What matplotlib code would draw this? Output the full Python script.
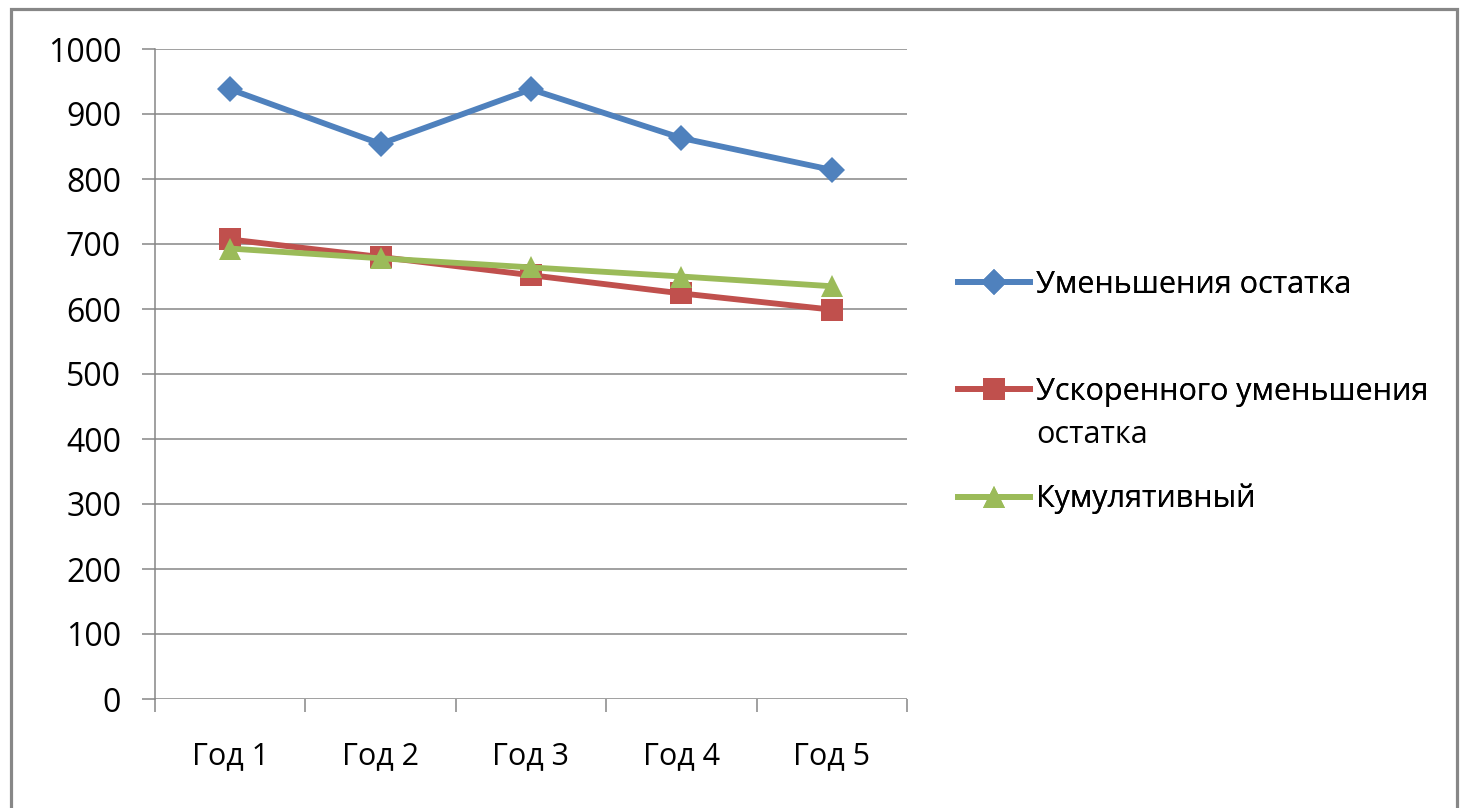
import matplotlib
matplotlib.use("Agg")
import matplotlib.pyplot as plt
from matplotlib.patches import Rectangle

plt.rcParams['font.family'] = ['Open Sans', 'DejaVu Sans']

years = ['Год 1', 'Год 2', 'Год 3', 'Год 4', 'Год 5']
declining = [938, 854, 938, 863, 814]
accelerated = [707, 680, 652, 624, 599]
cumulative = [693, 678, 664, 650, 635]

labels = ['Уменьшения остатка', 'Ускоренного уменьшения', 'Кумулятивный']
label_tail = 'остатка'
colors = ['#4F81BD', '#C0504D', '#9BBB59']
markers = ['D', 's', '^']
msizes = [13, 16, 16]

W, H = 1462, 808
fig = plt.figure(figsize=(W / 100, H / 100), dpi=100)
ax = fig.add_axes([155 / W, (H - 699) / H, (907 - 155) / W, (699 - 49) / H])

x = list(range(len(years)))
lines = []
for vals, lab, c, m, ms in zip([declining, accelerated, cumulative],
                               labels, colors, markers, msizes):
    ln, = ax.plot(x, vals, color=c, lw=4.2, marker=m, ms=ms,
                  markeredgewidth=0, label=lab, zorder=3)
    lines.append(ln)

ax.set_xlim(-0.5, 4.5)
ax.set_ylim(0, 1000)
ax.set_yticks(range(0, 1001, 100))
ax.set_xticks(x)
ax.set_xticklabels(years)
ax.set_xticks([i - 0.5 for i in range(6)], minor=True)
ax.yaxis.grid(True, color='#868686', lw=1.1)
ax.set_axisbelow(True)
for s in ['top', 'right', 'bottom']:
    ax.spines[s].set_visible(False)
ax.spines['left'].set_color('#868686')
ax.spines['left'].set_linewidth(1.1)
ax.tick_params(axis='y', length=9.4, width=1.1, color='#868686', pad=15,
               labelsize=23)
ax.tick_params(axis='x', which='major', length=0, pad=30, labelsize=22)
ax.tick_params(axis='x', which='minor', length=9.4, width=1.1, color='#868686')

# legend entries placed one by one, like the original layout
leg_y = [285, 392, 499]
for ln, yy in zip(lines, leg_y):
    leg = fig.legend(handles=[ln], loc='center left',
                     bbox_to_anchor=(958 / W, 1 - yy / H),
                     frameon=False, fontsize=22, handlelength=2.35,
                     handletextpad=0.2, borderpad=0, borderaxespad=0)
    fig.add_artist(leg)
fig.text(1036 / W, 1 - 435 / H, label_tail, fontsize=22, va='center',
         ha='left')

fig.patches.append(Rectangle((11 / W, -0.05), (1457 - 11) / W, 1.05 - 9 / H,
                             transform=fig.transFigure, fill=False,
                             edgecolor='#878787', lw=2.3))

fig.savefig('out.png', dpi=100)
